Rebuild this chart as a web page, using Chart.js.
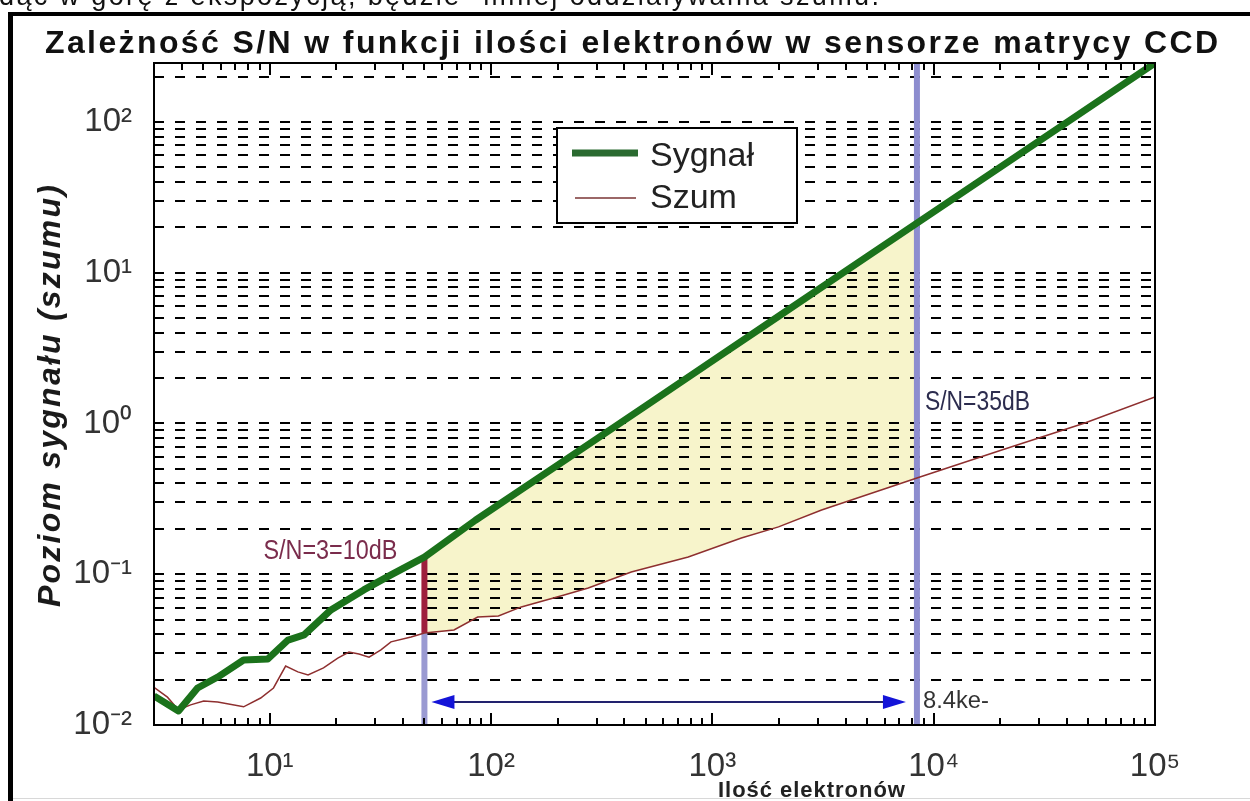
<!DOCTYPE html>
<html lang="pl">
<head>
<meta charset="utf-8">
<title>Zależność S/N w funkcji ilości elektronów</title>
<script src="https://cdn.jsdelivr.net/npm/chart.js@4.4.1/dist/chart.umd.min.js"></script>
<style>
  html, body { margin: 0; padding: 0; background: #fff; overflow: hidden; }
  canvas { display: block; }
</style>
</head>
<body>
<canvas id="chart" width="1250" height="801"></canvas>
<script>
// values (x = number of electrons, y = level)
const sygnalN   = [3, 3.87, 4.72, 5.82, 7.62, 9.8, 12.1, 14.3, 18.9, 26.6, 35.3, 50, 85, 200, 500, 1000, 2000, 5000, 8400, 20000, 50000, 100000];
const sygnalVal = [0.0156, 0.0124, 0.0176, 0.0208, 0.027, 0.0274, 0.0366, 0.0396, 0.058, 0.0787, 0.099, 0.13, 0.228, 0.53, 1.31, 2.6, 5.16, 12.8, 21.3, 50.2, 124, 246];

const szumN   = [3, 3.45, 3.87, 4.39, 5.03, 5.82, 7.62, 9.1, 10.4, 11.8, 13.4, 14.9, 17.5, 20.3, 22.8, 25.3, 28.1, 31.8, 35.3, 43.5, 50, 68, 87, 108, 137, 214, 275, 430, 778, 1352, 1990, 3115, 8400, 20300, 48200, 100000];
const szumVal = [0.0178, 0.0153, 0.0126, 0.0136, 0.0144, 0.0142, 0.0132, 0.0151, 0.0176, 0.0246, 0.0225, 0.0215, 0.0239, 0.0278, 0.0305, 0.0296, 0.0282, 0.0315, 0.0356, 0.0384, 0.0408, 0.0427, 0.052, 0.0528, 0.0607, 0.0728, 0.081, 0.1035, 0.13, 0.174, 0.206, 0.267, 0.435, 0.667, 1.007, 1.5];

const xTickValues = [10, 100, 1000, 10000, 100000];
const xTickLabels = ['10¹', '10²', '10³', '10⁴', '10⁵'];
const yTickValues = [0.01, 0.1, 1, 10, 100];
const yTickLabels = ['10⁻²', '10⁻¹', '10⁰', '10¹', '10²'];

const markerN = [50, 8400];          // S/N = 3 and S/N = 35 dB
const arrowLevel = 0.0142;
const markerTexts = ['S/N=3=10dB', 'S/N=35dB', '8.4ke-'];

const FONT = '"Liberation Sans", Arial, sans-serif';

function isPow10(v) {
  const l = Math.log10(v);
  return Math.abs(l - Math.round(l)) < 1e-6;
}

function tickLabel(values, labels) {
  return function (value) {
    const i = values.findIndex(v => Math.abs(Math.log10(v) - Math.log10(value)) < 1e-6);
    return i >= 0 ? labels[i] : '';
  };
}

// chart.js puts an extra 1.5 step into log ticks, the original grid has 1..9 only
function dropHalfSteps(scale) {
  scale.ticks = scale.ticks.filter(t => {
    const m = t.value / Math.pow(10, Math.floor(Math.log10(t.value) + 1e-9));
    return Math.abs(m - 1.5) > 1e-6;
  });
}

// spread text to a given width with letter spacing
function drawSpaced(ctx, text, x, y, width) {
  ctx.letterSpacing = '0px';
  const w = ctx.measureText(text).width;
  const sp = (width - w) / (text.length - 1);
  ctx.letterSpacing = sp.toFixed(2) + 'px';
  ctx.fillText(text, x, y);
  ctx.letterSpacing = '0px';
}

// squeeze text horizontally (narrow font look)
function drawNarrow(ctx, text, x, y, width) {
  const w = ctx.measureText(text).width;
  ctx.save();
  ctx.translate(x, y);
  ctx.scale(width / w, 1);
  ctx.fillText(text, 0, 0);
  ctx.restore();
}

function line(ctx, x1, y1, x2, y2) {
  ctx.beginPath();
  ctx.moveTo(x1, y1);
  ctx.lineTo(x2, y2);
  ctx.stroke();
}

const decor = {
  id: 'decor',
  beforeDraw(chart) {
    const ctx = chart.ctx;
    const area = chart.chartArea;
    const xs = chart.scales.x;
    ctx.save();
    ctx.fillStyle = '#fff';
    ctx.fillRect(0, 0, chart.width, chart.height);

    // text of the page above the picture (cut off)
    ctx.fillStyle = '#111';
    ctx.font = '27px ' + FONT;
    ctx.textBaseline = 'alphabetic';
    drawSpaced(ctx, 'dąc w górę z ekspozycją, będzie "mniej oddziaływania szumu.', -1, 5, 880);

    // picture frame
    ctx.fillStyle = '#000';
    ctx.fillRect(8, 12, chart.width - 8, 4);
    ctx.fillRect(8, 12, 5, chart.height - 12);
    ctx.fillStyle = '#d8d8d8';
    ctx.fillRect(13, chart.height - 3, chart.width - 13, 1);

    // yellow area between signal and noise
    const x0 = xs.getPixelForValue(markerN[0]);
    const x1 = xs.getPixelForValue(markerN[1]);
    const g = chart.getDatasetMeta(0).data;
    const r = chart.getDatasetMeta(1).data;
    ctx.beginPath();
    ctx.rect(x0, area.top, x1 - x0, area.bottom - area.top);
    ctx.clip();
    ctx.beginPath();
    g.forEach((p, i) => i ? ctx.lineTo(p.x, p.y) : ctx.moveTo(p.x, p.y));
    for (let i = r.length - 1; i >= 0; i--) ctx.lineTo(r[i].x, r[i].y);
    ctx.closePath();
    ctx.fillStyle = '#f7f4cb';
    ctx.fill();
    ctx.restore();
  },
  beforeDatasetsDraw(chart) {
    const ctx = chart.ctx;
    const area = chart.chartArea;
    const xs = chart.scales.x, ys = chart.scales.y;
    const xa = xs.getPixelForValue(markerN[0]);
    const xb = xs.getPixelForValue(markerN[1]);
    const yNoise = ys.getPixelForValue(szumVal[szumN.indexOf(markerN[0])]);
    const ySig = ys.getPixelForValue(sygnalVal[sygnalN.indexOf(markerN[0])]);
    ctx.save();
    ctx.lineWidth = 6;
    ctx.strokeStyle = '#8d8dcf';
    line(ctx, xb, area.bottom, xb, area.top);
    ctx.strokeStyle = '#9a9ad2';
    line(ctx, xa, area.bottom, xa, yNoise);
    ctx.strokeStyle = '#9e1f3c';
    line(ctx, xa, yNoise, xa, ySig);
    ctx.restore();
  },
  afterDatasetsDraw(chart) {
    const ctx = chart.ctx;
    const xs = chart.scales.x, ys = chart.scales.y;
    const xa = xs.getPixelForValue(markerN[0]);
    const xb = xs.getPixelForValue(markerN[1]);
    const ya = ys.getPixelForValue(arrowLevel);
    const ySig = ys.getPixelForValue(sygnalVal[sygnalN.indexOf(markerN[0])]);
    const tipL = xa + 7, tipR = xb - 11;
    ctx.save();
    // double arrow
    ctx.strokeStyle = '#22226e';
    ctx.lineWidth = 2;
    line(ctx, tipL + 10, ya, tipR - 10, ya);
    ctx.fillStyle = '#1414d8';
    ctx.beginPath();
    ctx.moveTo(tipL, ya); ctx.lineTo(tipL + 23, ya - 7); ctx.lineTo(tipL + 23, ya + 7); ctx.closePath();
    ctx.fill();
    ctx.beginPath();
    ctx.moveTo(tipR, ya); ctx.lineTo(tipR - 23, ya - 7); ctx.lineTo(tipR - 23, ya + 7); ctx.closePath();
    ctx.fill();

    // labels
    ctx.textBaseline = 'middle';
    ctx.font = '27px ' + FONT;
    ctx.fillStyle = '#7a2c4c';
    drawNarrow(ctx, markerTexts[0], xa - 27 - 134, ySig - 6, 134);
    ctx.fillStyle = '#2c2c4e';
    drawNarrow(ctx, markerTexts[1], xb + 8, ys.getPixelForValue(1) - 21, 105);
    ctx.font = '23px ' + FONT;
    ctx.fillStyle = '#333';
    drawNarrow(ctx, markerTexts[2], xb + 6, ya, 66);
    ctx.restore();
  },
  afterDraw(chart) {
    const ctx = chart.ctx;
    const area = chart.chartArea;
    const xs = chart.scales.x;
    ctx.save();
    // plot box and inward ticks
    ctx.strokeStyle = '#000';
    ctx.lineWidth = 2;
    ctx.strokeRect(area.left, area.top, area.right - area.left, area.bottom - area.top);
    xs.ticks.forEach(t => {
      const px = Math.round(xs.getPixelForValue(t.value));
      if (px <= area.left + 2 || px >= area.right - 2) return;
      const len = isPow10(t.value) ? 12 : 7;
      line(ctx, px, area.bottom, px, area.bottom - len);
      line(ctx, px, area.top, px, area.top + len);
    });

    // legend
    const lx = 557, ly = 128, lw = 240, lh = 95;
    ctx.fillStyle = '#fff';
    ctx.fillRect(lx, ly, lw, lh);
    ctx.strokeRect(lx, ly, lw, lh);
    const sets = chart.data.datasets;
    ctx.lineCap = 'butt';
    ctx.strokeStyle = '#2a6a30';
    ctx.lineWidth = 7;
    line(ctx, lx + 15, ly + 25, lx + 81, ly + 25);
    ctx.strokeStyle = '#7a3434';
    ctx.lineWidth = 1.5;
    line(ctx, lx + 18, ly + 70, lx + 79, ly + 70);
    ctx.fillStyle = '#222';
    ctx.font = '34px ' + FONT;
    ctx.textBaseline = 'alphabetic';
    ctx.fillText(sets[0].label, lx + 93, ly + 38);
    ctx.fillText(sets[1].label, lx + 93, ly + 80);

    // titles
    ctx.fillStyle = '#111';
    ctx.font = 'bold 32px ' + FONT;
    drawSpaced(ctx, 'Zależność S/N w funkcji ilości elektronów w sensorze matrycy CCD', 45, 53, 1173);
    ctx.font = 'bold 22px ' + FONT;
    ctx.fillStyle = '#222';
    drawSpaced(ctx, 'Ilość elektronów', 718, 797, 187);
    ctx.save();
    ctx.translate(60, 607);
    ctx.rotate(-Math.PI / 2);
    ctx.font = 'italic bold 32px ' + FONT;
    ctx.fillStyle = '#1a1a1a';
    drawSpaced(ctx, 'Poziom sygnału (szumu)', 0, 0, 422);
    ctx.restore();
    ctx.restore();
  }
};

const chart = new Chart(document.getElementById('chart'), {
  type: 'line',
  data: {
    datasets: [
      {
        label: 'Sygnał',
        data: sygnalN.map((n, i) => ({ x: n, y: sygnalVal[i] })),
        borderColor: '#1b721b',
        borderWidth: 7,
        borderJoinStyle: 'round',
        pointRadius: 0,
        tension: 0,
        fill: false
      },
      {
        label: 'Szum',
        data: szumN.map((n, i) => ({ x: n, y: szumVal[i] })),
        borderColor: '#8e2f2f',
        borderWidth: 1.5,
        pointRadius: 0,
        tension: 0,
        fill: false
      }
    ]
  },
  options: {
    responsive: false,
    animation: false,
    devicePixelRatio: 1,
    layout: { padding: { left: 0, top: 63, right: 95, bottom: 0 } },
    plugins: {
      legend: { display: false },
      title: { display: false },
      tooltip: { enabled: false }
    },
    scales: {
      x: {
        type: 'logarithmic',
        min: 3,
        max: 100000,
        grid: { display: false, drawTicks: false },
        border: { display: false },
        ticks: {
          autoSkip: false,
          maxRotation: 0,
          padding: 22,
          color: '#333',
          font: { family: FONT, size: 33 },
          callback: tickLabel(xTickValues, xTickLabels)
        },
        afterBuildTicks: dropHalfSteps,
        afterFit(s) { s.height = 76; }
      },
      y: {
        type: 'logarithmic',
        min: 0.01,
        max: 246,
        grid: { color: '#000', lineWidth: 2, drawTicks: false },
        border: { display: false, dash: [10, 11] },
        ticks: {
          autoSkip: false,
          padding: 22,
          color: '#333',
          font: { family: FONT, size: 33 },
          callback: tickLabel(yTickValues, yTickLabels)
        },
        afterBuildTicks: dropHalfSteps,
        afterFit(s) { s.width = 154; }
      }
    }
  },
  plugins: [decor]
});
</script>
</body>
</html>
